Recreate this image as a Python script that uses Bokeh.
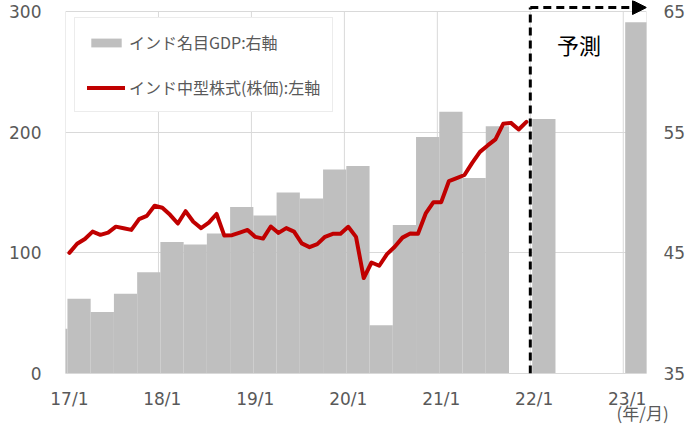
from bokeh.plotting import figure
from bokeh.models import (Range1d, LinearAxis, FixedTicker, Legend, LegendItem,
                          Arrow, NormalHead, Label)
from bokeh.embed import file_html
from bokeh.resources import INLINE

# ---- data ----
# monthly stock index (17/1 .. 21/12), month index 0 = 17/1
stock_months = list(range(60))
stock_values = [100.0, 107.5, 111.5, 117.6, 114.9, 116.8, 121.7, 120.4, 119.0, 127.9,
                130.6, 139.0, 137.4, 131.5, 124.3, 134.5, 125.8, 120.5, 125.0, 132.2,
                114.3, 114.6, 116.8, 119.0, 113.2, 111.8, 121.8, 116.5, 120.5, 117.6,
                107.8, 104.7, 107.2, 113.3, 115.8, 115.8, 121.6, 113.2, 79.1, 92.0,
                89.3, 98.9, 105.0, 112.6, 116.0, 115.8, 132.6, 142.0, 142.0, 159.5,
                162.0, 164.5, 174.6, 183.7, 189.0, 194.0, 206.9, 207.7, 202.2, 208.5]

# quarterly nominal GDP (right axis), quarter index 0 = 17Q1 (-1 = 16Q4)
nan = float("nan")
gdp_quarters = list(range(-1, 25))
gdp_values = [38.7,
              41.2, 40.1, 41.6, 43.4,
              45.9, 45.7, 46.6, 48.8,
              48.1, 50.0, 49.5, 51.9,
              52.2, 39.0, 47.3, 54.6,
              56.7, 51.2, 55.5, nan,
              56.1, nan, nan, nan,
              64.1]

tick_months = [0, 12, 24, 36, 48, 60, 72]
tick_labels = ["17/1", "18/1", "19/1", "20/1", "21/1", "22/1", "23/1"]
left_ticks = [0, 100, 200, 300]
right_ticks = [35, 45, 55, 65]

legend_gdp = "インド名目GDP:右軸"
legend_stock = "インド中型株式(株価):左軸"
forecast_label = "予測"
unit_label = "(年/月)"
unit_pos = 74

GRAY_TXT = "#595959"
GRID = "#d9d9d9"
NUM_FONT = "DejaVu Sans"
JP_FONT = "Noto Sans CJK JP"

# frame: 373 px tall, value 300 sits 11 px below the frame top (room for the arrow)
FRAME_H = 373
Y_TOP = 300 + 11 * 300 / (FRAME_H - 11)

p = figure(width=688, height=427, output_backend="svg", toolbar_location=None,
           x_range=Range1d(-0.5, 74.5), y_range=Range1d(0, Y_TOP),
           min_border_left=65, min_border_right=40, min_border_top=0, min_border_bottom=54)
p.outline_line_color = None
p.background_fill_color = "white"

p.extra_y_ranges = {"gdp": Range1d(35, 35 + Y_TOP / 10)}

# vertical grid lines (year boundaries + frame edges), only up to 300
vgrid = [-0.5 + 12 * k for k in range(7)] + [74.5]
p.segment(x0=vgrid, y0=[0] * len(vgrid), x1=vgrid, y1=[300] * len(vgrid),
          line_color=GRID, line_width=1, level="underlay")

# bars (quarterly, 3 months wide)
off = 0.25
lefts = [3 * q - 0.5 + off for q in gdp_quarters]
rights = [l + 3 for l in lefts]
bars = p.quad(left=lefts, right=rights, bottom=35, top=gdp_values, y_range_name="gdp",
              fill_color="#bfbfbf", line_color=None)

# stock line
line = p.line(stock_months, stock_values, line_color="#c00000", line_width=4,
              line_join="round", line_cap="round")


def style_axis(ax, standoff, font=NUM_FONT, size="17px"):
    ax.major_tick_line_color = None
    ax.minor_tick_line_color = None
    ax.major_tick_out = 0
    ax.major_tick_in = 0
    ax.minor_tick_out = 0
    ax.minor_tick_in = 0
    ax.major_label_standoff = standoff
    ax.major_label_text_font = font
    ax.major_label_text_font_size = size
    ax.major_label_text_color = GRAY_TXT


# axes
p.xaxis.ticker = FixedTicker(ticks=tick_months)
p.xaxis.major_label_overrides = {m: l for m, l in zip(tick_months, tick_labels)}
p.xaxis.axis_line_color = GRID
style_axis(p.xaxis[0], 15)

p.yaxis.ticker = FixedTicker(ticks=left_ticks)
p.yaxis.axis_line_color = None
style_axis(p.yaxis[0], 24)

ra = LinearAxis(y_range_name="gdp", ticker=FixedTicker(ticks=right_ticks))
ra.axis_line_color = None
style_axis(ra, 17)
p.add_layout(ra, "right")

# unit text "(年/月)" under the last tick label
ua = LinearAxis(ticker=FixedTicker(ticks=[unit_pos]))
ua.major_label_overrides = {unit_pos: unit_label}
ua.axis_line_color = None
style_axis(ua, -12, font=JP_FONT, size="17px")
p.add_layout(ua, "below")

# grids
p.xgrid.grid_line_color = None
p.ygrid.ticker = FixedTicker(ticks=left_ticks)
p.ygrid.grid_line_color = GRID

# forecast markers
top_val = 303.3
p.add_layout(Arrow(x_start=59.5, y_start=0, x_end=59.5, y_end=top_val, end=None,
                   line_color="black", line_width=3, line_dash="8 5"))
p.add_layout(Arrow(x_start=59.5, y_start=top_val, x_end=74.5, y_end=top_val,
                   end=NormalHead(size=14, fill_color="black", line_color="black", line_width=1),
                   line_color="black", line_width=3, line_dash="8 5"))
p.add_layout(Label(x=65.8, y=273, text=forecast_label, text_align="center",
                   text_baseline="middle", text_font=JP_FONT, text_font_size="22px",
                   text_color="black"))

legend = Legend(items=[LegendItem(label=legend_gdp, renderers=[bars]),
                       LegendItem(label=legend_stock, renderers=[line])],
                location=(9, 261), padding=12, spacing=21,
                glyph_width=38, glyph_height=11, label_height=20, label_standoff=4,
                border_line_color=GRID, border_line_width=1,
                background_fill_color="white", background_fill_alpha=1.0,
                label_text_font=JP_FONT, label_text_font_size="16px",
                label_text_color=GRAY_TXT)
p.add_layout(legend)

open("out.html", "w").write(file_html(p, INLINE))
